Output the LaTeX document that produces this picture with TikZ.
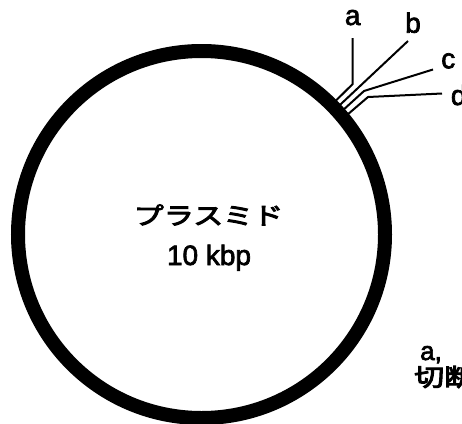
\documentclass[tikz,border=0pt]{standalone}
\usepackage{fontspec}
\setmainfont{Liberation Sans}
\newfontfamily\jpfont{Noto Sans CJK JP}[FakeStretch=1.25]
\newcommand\heavytext[2][0.7]{\special{pdf:literal direct 2 Tr #1 w}#2\special{pdf:literal direct 0 Tr}}
\tikzset{
  ring/.style={line width=14pt, draw=black},
  lead/.style={line width=2pt, draw=black, line join=miter},
  lbl/.style={inner sep=0pt, font=\fontsize{28}{30}\selectfont},
  cap2/.style={inner sep=0pt, font=\fontsize{26}{28}\selectfont}
}
\begin{document}
\begin{tikzpicture}[x=1pt,y=-1pt]
\useasboundingbox (0,0) rectangle (462,423);
\clip (0,0) rectangle (462,423);
% ring centre
\coordinate (ctr) at (201.5,234.5);
% lead end points on ring
\coordinate (ea) at (334.7,101.8);
\coordinate (eb) at (338.8,106.0);
\coordinate (ec) at (342.7,110.4);
\coordinate (ed) at (346.8,115.2);
% bends
\coordinate (ka) at (352.7,84);
\coordinate (kc) at (364,91);
\coordinate (kd) at (368,97);
% free ends
\coordinate (ta) at (352.7,38);
\coordinate (tb) at (408,41);
\coordinate (tc) at (433,69.5);
\coordinate (td) at (442,93.5);
\draw[lead] (ea) -- (ka) -- (ta);
\draw[lead] (eb) -- (tb);
\draw[lead] (ec) -- (kc) -- (tc);
\draw[lead] (ed) -- (kd) -- (td);
% ring
\draw[ring] (ctr) circle[radius=183.5pt];
% labels
\node[lbl, anchor=base] (la) at (352.7,25) {\heavytext{a}};
\node[lbl, anchor=base] (lb) at (413,32.7) {\heavytext{b}};
\node[lbl, anchor=base] (lc) at (448.3,68.3) {\heavytext{c}};
\node[lbl, anchor=base] (ld) at (458.7,105) {\heavytext{d}};
% centre text
\node[inner sep=0pt, font=\jpfont\fontsize{24}{26}\selectfont] (pl) at (208.5,215) {\heavytext[1.0]{プラスミド}};
\node[lbl, anchor=base] (sz) at (209,265) {\heavytext{10 kbp}};
% bottom right note (cut by the frame)
\node[cap2, anchor=base west] (n1) at (420,360) {\heavytext{a,}};
\node[inner sep=0pt, anchor=west, font=\jpfont\fontsize{24}{26}\selectfont] (n2) at (414,377) {\heavytext[1.0]{切断}};
\end{tikzpicture}
\end{document}
